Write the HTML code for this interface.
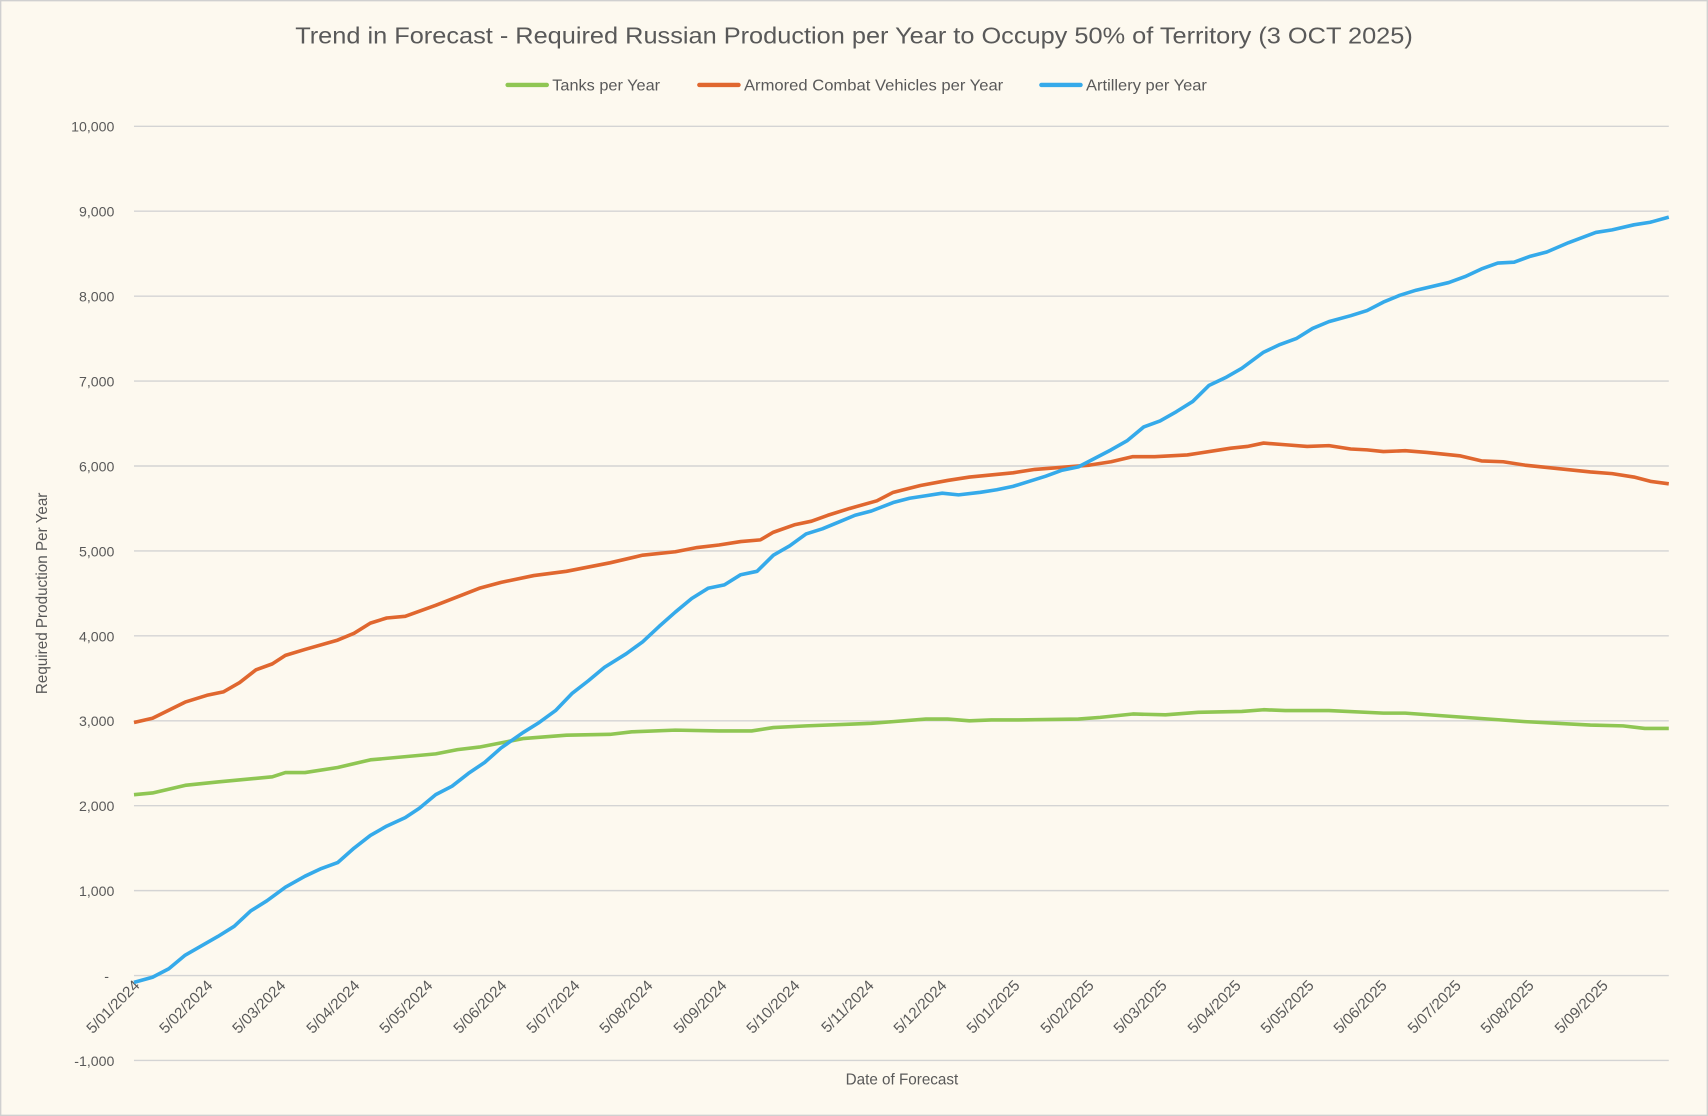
<!DOCTYPE html>
<html><head><meta charset="utf-8"><style>
html,body{margin:0;padding:0;background:#fdf9ef;}
svg{display:block;}
text{font-family:"Liberation Sans",sans-serif;fill:#595959;}
</style></head><body>
<svg width="1708" height="1116" viewBox="0 0 1568 1025" preserveAspectRatio="none">
<rect x="0.5" y="0.5" width="1567" height="1024" fill="#fdf9ef" stroke="#d0d0d0" stroke-width="1.5"/>
<text x="784" y="40" font-size="21" text-anchor="middle" textLength="1026" lengthAdjust="spacingAndGlyphs">Trend in Forecast - Required Russian Production per Year to Occupy 50% of Territory (3 OCT 2025)</text>
<g stroke-width="4" stroke-linecap="round">
<line x1="466" y1="78" x2="502" y2="78" stroke="#8fc653"/>
<line x1="642" y1="78" x2="678" y2="78" stroke="#e0672f"/>
<line x1="956" y1="78" x2="992" y2="78" stroke="#35aaea"/>
</g>
<g font-size="14">
<text x="507" y="83" textLength="99" lengthAdjust="spacingAndGlyphs">Tanks per Year</text>
<text x="683" y="83" textLength="238" lengthAdjust="spacingAndGlyphs">Armored Combat Vehicles per Year</text>
<text x="997" y="83" textLength="111" lengthAdjust="spacingAndGlyphs">Artillery per Year</text>
</g>
<g stroke="#d4d4d4" stroke-width="1.3">
<line x1="123" x2="1532" y1="116" y2="116"/><line x1="123" x2="1532" y1="194" y2="194"/>
<line x1="123" x2="1532" y1="272" y2="272"/><line x1="123" x2="1532" y1="350" y2="350"/>
<line x1="123" x2="1532" y1="428" y2="428"/><line x1="123" x2="1532" y1="506" y2="506"/>
<line x1="123" x2="1532" y1="584" y2="584"/><line x1="123" x2="1532" y1="662" y2="662"/>
<line x1="123" x2="1532" y1="740" y2="740"/><line x1="123" x2="1532" y1="818" y2="818"/>
<line x1="123" x2="1532" y1="896" y2="896"/><line x1="123" x2="1532" y1="974" y2="974"/>
</g>
<g font-size="13" text-anchor="end">
<text x="105" y="121">10,000</text><text x="105" y="199">9,000</text><text x="105" y="277">8,000</text>
<text x="105" y="355">7,000</text><text x="105" y="433">6,000</text><text x="105" y="511">5,000</text>
<text x="105" y="589">4,000</text><text x="105" y="667">3,000</text><text x="105" y="745">2,000</text>
<text x="105" y="823">1,000</text><text x="100" y="901">-</text><text x="105" y="979">-1,000</text>
</g>
<text transform="translate(43,545) rotate(-90)" font-size="14" text-anchor="middle">Required Production Per Year</text>
<text x="828" y="996" font-size="14" text-anchor="middle">Date of Forecast</text>
<g font-size="14" text-anchor="end">
<text transform="translate(129,906) rotate(-45)">5/01/2024</text>
<text transform="translate(196,906) rotate(-45)">5/02/2024</text>
<text transform="translate(263,906) rotate(-45)">5/03/2024</text>
<text transform="translate(331,906) rotate(-45)">5/04/2024</text>
<text transform="translate(398,906) rotate(-45)">5/05/2024</text>
<text transform="translate(466,906) rotate(-45)">5/06/2024</text>
<text transform="translate(533,906) rotate(-45)">5/07/2024</text>
<text transform="translate(600,906) rotate(-45)">5/08/2024</text>
<text transform="translate(668,906) rotate(-45)">5/09/2024</text>
<text transform="translate(735,906) rotate(-45)">5/10/2024</text>
<text transform="translate(803,906) rotate(-45)">5/11/2024</text>
<text transform="translate(870,906) rotate(-45)">5/12/2024</text>
<text transform="translate(937,906) rotate(-45)">5/01/2025</text>
<text transform="translate(1005,906) rotate(-45)">5/02/2025</text>
<text transform="translate(1072,906) rotate(-45)">5/03/2025</text>
<text transform="translate(1140,906) rotate(-45)">5/04/2025</text>
<text transform="translate(1207,906) rotate(-45)">5/05/2025</text>
<text transform="translate(1274,906) rotate(-45)">5/06/2025</text>
<text transform="translate(1342,906) rotate(-45)">5/07/2025</text>
<text transform="translate(1409,906) rotate(-45)">5/08/2025</text>
<text transform="translate(1477,906) rotate(-45)">5/09/2025</text>
</g>
<g transform="translate(0,896) scale(1,-0.078)" fill="none" stroke-width="3.6" stroke-linejoin="round">
<polyline vector-effect="non-scaling-stroke" stroke="#8fc653" points="123,2130 140,2150 170,2240 200,2280 250,2340 262,2390 280,2390 310,2450 340,2540 400,2610 420,2660 440,2690 480,2790 520,2830 560,2840 580,2870 620,2890 660,2880 690,2880 710,2920 740,2940 780,2960 800,2970 820,2990 850,3020 870,3020 890,3000 910,3010 935,3010 990,3020 1010,3040 1040,3080 1070,3070 1100,3100 1140,3110 1160,3130 1180,3120 1220,3120 1270,3090 1290,3090 1400,2990 1460,2950 1490,2940 1510,2910 1532,2910"/>
<polyline vector-effect="non-scaling-stroke" stroke="#e0672f" points="123,2980 140,3030 170,3220 190,3300 205,3340 220,3450 235,3600 250,3670 262,3770 280,3840 310,3950 325,4030 340,4150 355,4210 372,4230 400,4360 420,4460 440,4560 460,4630 490,4710 520,4760 560,4860 590,4950 620,4990 640,5040 660,5070 680,5110 698,5130 710,5220 730,5310 745,5350 760,5420 780,5500 805,5590 820,5690 845,5770 870,5830 890,5870 930,5920 950,5960 1000,6010 1020,6050 1040,6110 1060,6110 1090,6130 1100,6150 1130,6210 1145,6230 1160,6270 1180,6250 1200,6230 1220,6240 1240,6200 1255,6190 1270,6170 1290,6180 1310,6160 1340,6120 1360,6060 1380,6050 1400,6010 1460,5930 1480,5910 1500,5870 1515,5820 1532,5790"/>
<polyline vector-effect="non-scaling-stroke" stroke="#35aaea" points="123,-80 140,-20 155,80 170,240 185,350 200,460 215,580 230,760 245,880 262,1040 280,1170 295,1260 310,1330 325,1500 340,1650 355,1760 372,1860 385,1970 400,2130 415,2230 430,2380 445,2510 460,2680 480,2860 495,2980 510,3120 525,3320 540,3470 555,3630 575,3790 590,3930 605,4110 620,4280 635,4440 650,4560 665,4600 680,4720 695,4760 710,4950 725,5060 740,5200 755,5260 770,5340 785,5420 800,5470 820,5570 835,5620 850,5650 865,5680 880,5660 900,5690 915,5720 930,5760 945,5820 960,5880 975,5950 990,5990 1005,6090 1020,6190 1035,6300 1050,6460 1065,6530 1080,6640 1095,6760 1110,6950 1125,7040 1140,7150 1160,7340 1175,7430 1190,7500 1205,7620 1220,7700 1240,7770 1255,7830 1270,7930 1285,8010 1300,8070 1330,8160 1345,8230 1360,8320 1375,8390 1390,8400 1405,8470 1420,8520 1440,8630 1465,8750 1480,8780 1500,8840 1515,8870 1532,8930"/>
</g>
</svg>
</body></html>
